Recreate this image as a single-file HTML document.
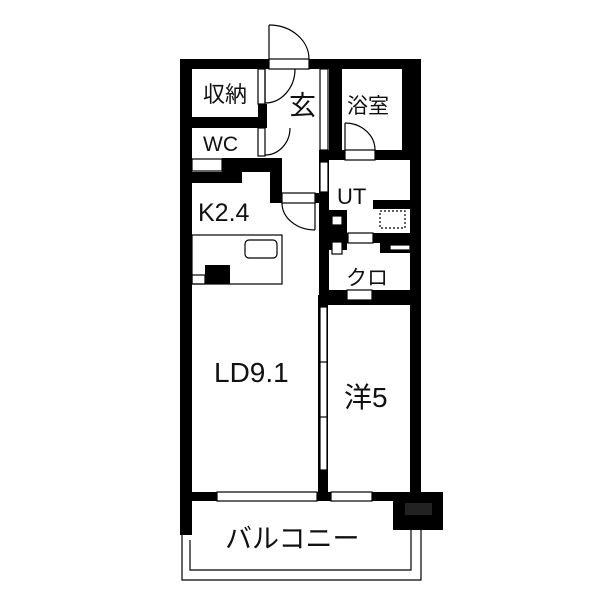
<!DOCTYPE html>
<html><head><meta charset="utf-8"><style>
html,body{margin:0;padding:0;background:#fff;width:600px;height:600px;overflow:hidden}
svg text{font-family:"Liberation Sans","Noto Sans CJK JP",sans-serif;fill:#111}
</style></head><body>
<svg width="600" height="600" viewBox="0 0 600 600" xmlns="http://www.w3.org/2000/svg">
<g fill="#000">
<rect x="180" y="59" width="12" height="476"/>
<rect x="180" y="59" width="241" height="10"/>
<rect x="410" y="59" width="11" height="442"/>
<rect x="180" y="492" width="241" height="9"/>
<rect x="393" y="492" width="50" height="38"/>
<rect x="318" y="300" width="10" height="192"/>
<rect x="318" y="295" width="103" height="10"/>
<rect x="192" y="117" width="75" height="11"/>
<rect x="258" y="104" width="9" height="13"/>
<rect x="222" y="158" width="60" height="14"/>
<rect x="192" y="172" width="50" height="11"/>
<rect x="270" y="158" width="12" height="45"/>
<rect x="270" y="193" width="49" height="10"/>
<rect x="329" y="69" width="13" height="91"/>
<rect x="319" y="150" width="102" height="10"/>
<rect x="402" y="69" width="8" height="91"/>
<rect x="319" y="160" width="10" height="135"/>
<rect x="373" y="200" width="38" height="9"/>
<rect x="319" y="233" width="102" height="10"/>
<rect x="329" y="210" width="18" height="40"/>
<rect x="380" y="243" width="31" height="10"/>
<rect x="329" y="290" width="92" height="10"/>
<rect x="205" y="265" width="25" height="19"/>
</g>
<g fill="#fff" stroke="#000" stroke-width="1.2">
<rect x="269" y="59" width="40" height="10"/>
<rect x="258" y="69" width="7" height="35"/>
<rect x="258" y="128" width="7" height="28"/>
<rect x="192" y="159" width="30" height="12"/>
<rect x="282" y="193" width="33" height="10"/>
<rect x="320" y="69" width="8" height="81"/>
<rect x="345" y="150" width="30" height="10"/>
<rect x="320" y="162" width="8" height="30"/>
<rect x="348" y="233" width="25" height="10"/>
<rect x="390" y="245" width="20" height="5"/>
<rect x="347" y="290" width="25" height="10"/>
<rect x="320" y="307" width="7" height="163"/>
<rect x="217" y="492" width="100" height="9"/>
<rect x="331" y="492" width="41" height="9"/>
<rect x="192" y="275" width="13" height="9"/>
<rect x="332" y="216" width="10" height="9"/>
<rect x="332" y="242" width="10" height="12"/>
</g>
<g fill="none" stroke="#000" stroke-width="1.2">
<line x1="320" y1="362" x2="327" y2="362"/><line x1="320" y1="417" x2="327" y2="417"/>
<line x1="269" y1="25" x2="269" y2="59"/><path d="M269 25 A40 34 0 0 1 309 59"/>
<line x1="265" y1="103" x2="265" y2="69"/><path d="M265 103 A30 34 0 0 0 295 69"/>
<path d="M265 155 A25 27 0 0 0 290 128"/>
<line x1="345" y1="123" x2="345" y2="150"/><path d="M345 123 A30 27 0 0 1 375 150"/>
<line x1="315" y1="203" x2="315" y2="230"/><path d="M282 203 A33 27 0 0 0 315 230"/>
<rect x="192" y="235" width="90" height="49"/>
<rect x="245" y="240" width="32" height="18" rx="4"/>
<rect x="380" y="211" width="25" height="17" stroke-dasharray="2,2"/>
<path d="M182 535 V580 H421 V530"/>
<path d="M190 540 V570 H411 V530"/>
</g>
<rect x="405" y="503" width="27" height="12" fill="#222"/>
<g>
<text x="203" y="102" font-size="22">収納</text>
<text x="289" y="115" font-size="27">玄</text>
<text x="347" y="113" font-size="21">浴室</text>
<text x="203" y="151" font-size="21">WC</text>
<text x="198" y="221" font-size="25">K2.4</text>
<text x="337" y="204" font-size="22">UT</text>
<text x="346" y="285" font-size="21">クロ</text>
<text x="214" y="382" font-size="28">LD9.1</text>
<text x="344" y="407" font-size="28">洋5</text>
<text x="225" y="548" font-size="27">バルコニー</text>
</g>
</svg>
</body></html>
